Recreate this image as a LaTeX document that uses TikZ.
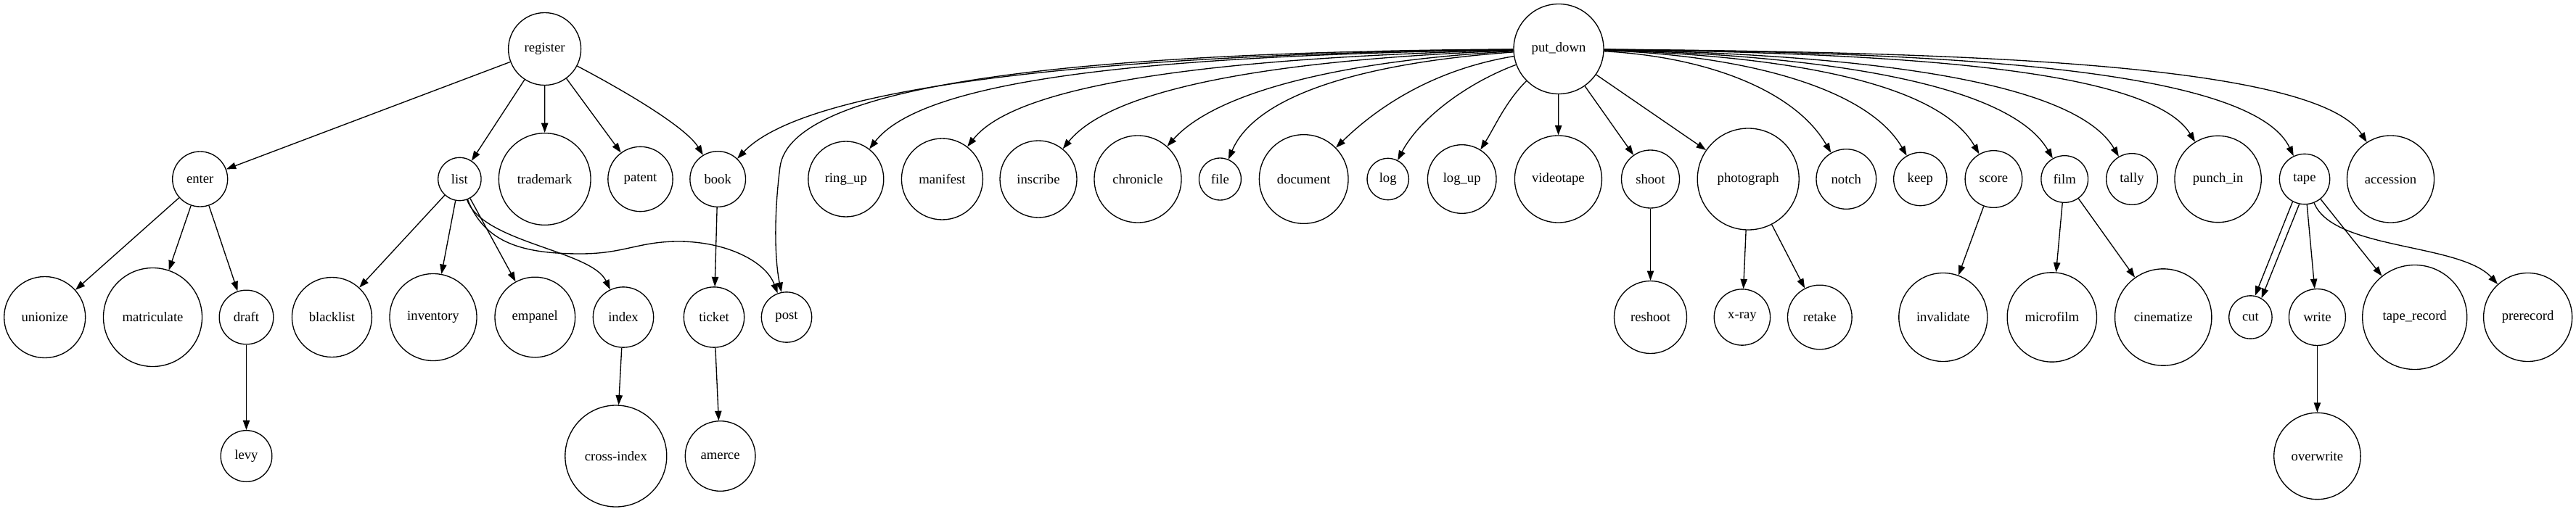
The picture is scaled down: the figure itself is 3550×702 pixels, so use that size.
\documentclass[tikz,border=0pt]{standalone}
\usepackage{fontspec}
\setmainfont{Liberation Serif}
\usetikzlibrary{arrows.meta}

\begin{document}
\begin{tikzpicture}[x=0.75pt, y=-0.75pt]
\tikzstyle{every node} = [font = \fontsize{14}{16}\selectfont]
\tikzstyle{word} = [draw, circle, line width=1pt, inner sep=0pt]
\tikzstyle{link} = [line width=1pt, -{Triangle[length=10pt, width=7pt]}]

\useasboundingbox (0,0) rectangle (3550,702);

% radici
\node[word, minimum size=75pt] (register) at (750.6, 67.5) {register};
\node[word, minimum size=93pt] (putdown) at (2148, 67.5) {put\_down};

% secondo livello
\node[word, minimum size=57pt] (enter) at (275.7, 247) {enter};
\node[word, minimum size=44.5pt] (list) at (633.4, 247) {list};
\node[word, minimum size=95pt] (trademark) at (750.7, 247) {trademark};
\node[word, minimum size=67pt] (patent) at (882.5, 247) {patent};
\node[word, minimum size=57.5pt] (book) at (989.2, 247) {book};
\node[word, minimum size=78pt] (ringup) at (1165.8, 247) {ring\_up};
\node[word, minimum size=84pt] (manifest) at (1298.4, 247) {manifest};
\node[word, minimum size=79.5pt] (inscribe) at (1431, 247) {inscribe};
\node[word, minimum size=90pt] (chronicle) at (1568, 247) {chronicle};
\node[word, minimum size=43.5pt] (file) at (1681.4, 247) {file};
\node[word, minimum size=92pt] (document) at (1796.7, 247) {document};
\node[word, minimum size=43pt] (log) at (1912.7, 247) {log};
\node[word, minimum size=71pt] (logup) at (2014.7, 247) {log\_up};
\node[word, minimum size=90pt] (videotape) at (2147.4, 247) {videotape};
\node[word, minimum size=60pt] (shoot) at (2274.5, 247) {shoot};
\node[word, minimum size=105pt] (photograph) at (2409.2, 247) {photograph};
\node[word, minimum size=62pt] (notch) at (2544.3, 247) {notch};
\node[word, minimum size=55pt] (keep) at (2646.3, 247) {keep};
\node[word, minimum size=59pt] (score) at (2747.4, 247) {score};
\node[word, minimum size=48.5pt] (film) at (2845.2, 247) {film};
\node[word, minimum size=53pt] (tally) at (2938, 247) {tally};
\node[word, minimum size=89.5pt] (punchin) at (3056.6, 247) {punch\_in};
\node[word, minimum size=52pt] (tape) at (3176, 247) {tape};
\node[word, minimum size=90pt] (accession) at (3294.5, 247) {accession};

% terzo livello
\node[word, minimum size=84pt] (unionize) at (61.7, 437.5) {unionize};
\node[word, minimum size=102pt] (matriculate) at (210.5, 437.5) {matriculate};
\node[word, minimum size=56pt] (draft) at (339.5, 437.5) {draft};
\node[word, minimum size=82.5pt] (blacklist) at (457.4, 437.5) {blacklist};
\node[word, minimum size=90pt] (inventory) at (597, 437.5) {inventory};
\node[word, minimum size=83pt] (empanel) at (737.3, 437.5) {empanel};
\node[word, minimum size=62.5pt] (index) at (859, 437.5) {index};
\node[word, minimum size=62.5pt] (ticket) at (984, 437.5) {ticket};
\node[word, minimum size=52pt] (post) at (1084, 437.5) {post};
\node[word, minimum size=75pt] (reshoot) at (2274.5, 437.5) {reshoot};
\node[word, minimum size=58pt] (xray) at (2400.9, 437.5) {x-ray};
\node[word, minimum size=66.5pt] (retake) at (2507.8, 437.5) {retake};
\node[word, minimum size=91.5pt] (invalidate) at (2677.8, 437.5) {invalidate};
\node[word, minimum size=92.5pt] (microfilm) at (2827.8, 437.5) {microfilm};
\node[word, minimum size=100pt] (cinematize) at (2981.2, 437.5) {cinematize};
\node[word, minimum size=44.5pt] (cut) at (3101.4, 437.5) {cut};
\node[word, minimum size=58.5pt] (write) at (3193.4, 437.5) {write};
\node[word, minimum size=108pt] (taperecord) at (3327.7, 437.5) {tape\_record};
\node[word, minimum size=91.5pt] (prerecord) at (3483.6, 437.5) {prerecord};

% quarto livello
\node[word, minimum size=53pt] (levy) at (339.5, 629) {levy};
\node[word, minimum size=105pt] (crossindex) at (848.8, 629) {cross-index};
\node[word, minimum size=72.5pt] (amerce) at (992.6, 629) {amerce};
\node[word, minimum size=89.5pt] (overwrite) at (3193.4, 629) {overwrite};

% archi di register
\draw[link] (register) -- (enter);
\draw[link] (register) -- (list);
\draw[link] (register) -- (trademark);
\draw[link] (register) -- (patent);
\draw[link] (register) .. controls (860,125) and (945,175) .. (book);

\draw[link] (enter) -- (unionize);
\draw[link] (enter) -- (matriculate);
\draw[link] (enter) -- (draft);
\draw[link] (draft) -- (levy);

\draw[link] (list) -- (blacklist);
\draw[link] (list) -- (inventory);
\draw[link] (list) -- (empanel);
\draw[link] (list) .. controls (665,335) and (815,345) .. (index);
\draw[link] (list) .. controls (668,335) and (720,350) .. (800,350)
  .. controls (860,350) and (880,333) .. (935,333)
  .. controls (1000,333) and (1055,360) .. (post);
\draw[link] (index) -- (crossindex);
\draw[link] (book) -- (ticket);
\draw[link] (ticket) -- (amerce);

% archi di put_down, a sinistra
\draw[link] (putdown) .. controls (1500,75) and (1110,120) .. (book);
\draw[link] (putdown) .. controls (1450,72) and (1090,120) .. (1075,230)
  .. controls (1066,300) and (1068,360) .. (post);
\draw[link] (putdown) .. controls (1650,76) and (1280,100) .. (ringup);
\draw[link] (putdown) .. controls (1746,78) and (1409,105) .. (manifest);
\draw[link] (putdown) .. controls (1810,80) and (1540,112) .. (inscribe);
\draw[link] (putdown) .. controls (1870,82) and (1680,122) .. (chronicle);
\draw[link] (putdown) .. controls (1900,85) and (1733,125) .. (file);
\draw[link] (putdown) .. controls (1980,95) and (1902,144) .. (document);
\draw[link] (putdown) .. controls (2020,115) and (1955,165) .. (log);
\draw[link] (putdown) .. controls (2075,140) and (2060,175) .. (logup);
\draw[link] (putdown) -- (videotape);
\draw[link] (putdown) -- (shoot);
\draw[link] (putdown) -- (photograph);

% archi di put_down, a destra
\draw[link] (putdown) .. controls (2350,78) and (2473,124) .. (notch);
\draw[link] (putdown) .. controls (2400,76) and (2573,120) .. (keep);
\draw[link] (putdown) .. controls (2440,76) and (2668,109) .. (score);
\draw[link] (putdown) .. controls (2490,75) and (2767,111) .. (film);
\draw[link] (putdown) .. controls (2530,74) and (2855,105) .. (tally);
\draw[link] (putdown) .. controls (2580,73) and (2960,90) .. (punchin);
\draw[link] (putdown) .. controls (2630,72) and (3100,88) .. (tape);
\draw[link] (putdown) .. controls (2680,72) and (3190,85) .. (accession);

\draw[link] (shoot) -- (reshoot);
\draw[link] (photograph) -- (xray);
\draw[link] (photograph) -- (retake);
\draw[link] (score) -- (invalidate);
\draw[link] (film) -- (microfilm);
\draw[link] (film) -- (cinematize);

\draw[link] (tape.-118) -- (cut.78);
\draw[link] (tape.-102) -- (cut.60);
\draw[link] (tape) -- (write);
\draw[link] (tape) -- (taperecord);
\draw[link] (tape) .. controls (3215,345) and (3390,335) .. (prerecord);
\draw[link] (write) -- (overwrite);

\end{tikzpicture}
\end{document}
